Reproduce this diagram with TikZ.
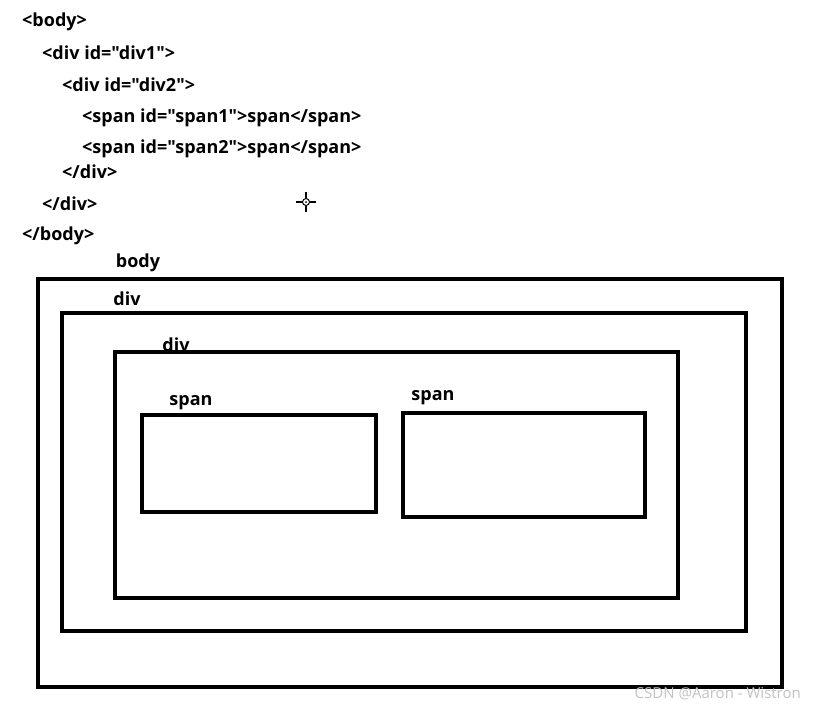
\documentclass[tikz,border=0pt]{standalone}
\usepackage{fontspec}
\setmainfont{Open Sans}[Ligatures=TeXOff]
\usepackage{tikz}
\definecolor{markgray}{RGB}{195, 195, 195}

\begin{document}
\begin{tikzpicture}[
  x=1pt, y=-1pt,
  codeline/.style={anchor=west, inner sep=0pt, font=\fontsize{18}{20}\selectfont\bfseries},
  boxlabel/.style={inner sep=0pt, font=\fontsize{18}{20}\selectfont\bfseries},
  tagbox/.style={draw, line width=4.5pt}
]
  \useasboundingbox[fill=white] (0,0) rectangle (814,710);

  % the markup
  \node[codeline] (l1) at (22, 21.5) {<body>};
  \node[codeline] (l2) at (42, 52.5) {<div id="div1">};
  \node[codeline] (l3) at (62, 84.5) {<div id="div2">};
  \node[codeline] (l4) at (82, 117.5) {<span id="span1">span</span>};
  \node[codeline] (l5) at (82, 148.5) {<span id="span2">span</span>};
  \node[codeline] (l6) at (62, 171.5) {</div>};
  \node[codeline] (l7) at (42, 203.5) {</div>};
  \node[codeline] (l8) at (22, 235.5) {</body>};

  % cursor mark
  \draw[line width=1.2pt] (296,202) -- (302.5,202) (309.5,202) -- (316,202)
    (306,192) -- (306,198.5) (306,205.5) -- (306,212);
  \draw[line width=1pt] (306,202) circle (3.5);
  \fill (306,202) circle (1);

  % nested boxes
  \draw[tagbox] (38,279) rectangle (782,687);
  \draw[tagbox] (62,313) rectangle (746,631);
  \draw[tagbox] (115,352) rectangle (678,598);
  \draw[tagbox] (142,415) rectangle (376,512);
  \draw[tagbox] (403,413) rectangle (645,517);

  \node[boxlabel] (bodytag) at (138, 263) {body};
  \node[boxlabel] (divonetag) at (127, 299) {div};
  \node[boxlabel] (divtwotag) at (176, 345) {div};
  \node[boxlabel] (spanonetag) at (191, 403) {span};
  \node[boxlabel] (spantwotag) at (433, 398) {span};

  \node[anchor=east, inner sep=0pt, text=markgray, font=\fontsize{15}{16}\selectfont] (mark) at (801, 694) {CSDN @Aaron - Wistron};
\end{tikzpicture}
\end{document}
